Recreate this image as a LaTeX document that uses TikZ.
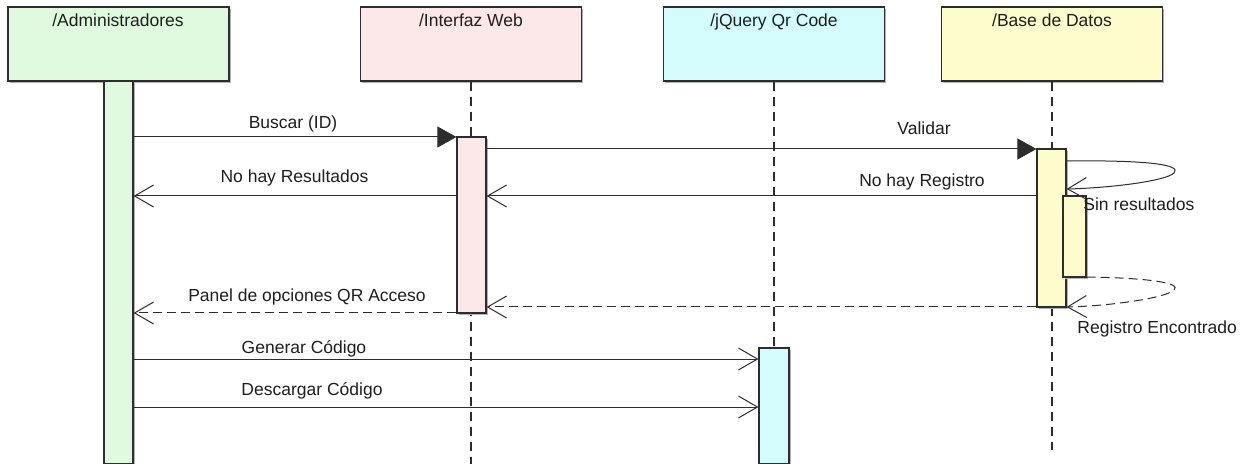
\documentclass[tikz,border=0pt]{standalone}
\usepackage{fontspec}
\setmainfont{Liberation Sans}
\usetikzlibrary{arrows.meta,shadows}
\definecolor{admfill}{RGB}{224,250,224}
\definecolor{webfill}{RGB}{252,232,232}
\definecolor{qrfill}{RGB}{212,252,252}
\definecolor{dbfill}{RGB}{252,252,204}
\definecolor{ln}{RGB}{45,45,45}
\definecolor{tx}{RGB}{30,30,30}
\begin{document}
\begin{tikzpicture}[x=0.5pt,y=-0.5pt,
  shd/.style={general shadow={fill=black!30, shadow xshift=0.8pt, shadow yshift=-0.8pt}},
  head/.style={draw=ln, line width=0.6pt, inner sep=0pt, minimum width=110.5pt, minimum height=37pt, shd},
  bar/.style={draw=ln, line width=0.6pt, inner sep=0pt, shd},
  lbl/.style={font=\fontsize{8.75}{10}\selectfont, text=tx, inner sep=0pt, anchor=base},
  life/.style={draw=ln, line width=0.6pt, dash pattern=on 4.5pt off 3pt},
  msg/.style={draw=ln, line width=0.5pt},
  ret/.style={draw=ln, line width=0.5pt, dash pattern=on 4.5pt off 2.5pt},
  sync/.style={-{Triangle[length=9.5pt,width=10.5pt]}},
  open/.style={-{Straight Barb[length=9.5pt,width=11pt]}}]
\useasboundingbox (0,0) rectangle (1256,464);
% headers
\node[head, fill=admfill] (adm) at (118.5,44) {};
\node[head, fill=webfill] (web) at (471,44) {};
\node[head, fill=qrfill] (qr) at (774,44) {};
\node[head, fill=dbfill] (db) at (1052,44) {};
\node[lbl] (admt) at (118,27) {/Administradores};
\node[lbl] (webt) at (471,27) {/Interfaz Web};
\node[lbl] (qrt) at (774,27) {/jQuery Qr Code};
\node[lbl] (dbt) at (1052,27) {/Base de Datos};
% lifeline ends
\coordinate (webend) at (471,464);
\coordinate (qrend) at (774,464);
\coordinate (dbend) at (1052,450);
\draw[life] (web.south) -- (webend);
\draw[life] (qr.south) -- (qrend);
\draw[life] (db.south) -- (dbend);
% activation bars
\node[bar, fill=admfill, minimum width=14.5pt, minimum height=191.5pt] (admbar) at (118.5,272.5) {};
\node[bar, fill=webfill, minimum width=14.5pt, minimum height=88pt] (webbar) at (471.5,225) {};
\node[bar, fill=qrfill, minimum width=15pt, minimum height=58pt] (qrbar) at (774,406) {};
\node[bar, fill=dbfill, minimum width=14.5pt, minimum height=79pt] (dbbar) at (1051.5,228) {};
\node[bar, fill=dbfill, minimum width=11.5pt, minimum height=40.5pt] (dbsub) at (1074.5,236.5) {};
% message levels
\coordinate (y137) at (0,137);
\coordinate (y149) at (0,149);
\coordinate (y161) at (0,161);
\coordinate (y189) at (0,189);
\coordinate (y196) at (0,196);
\coordinate (y277) at (0,277);
\coordinate (y307) at (0,307);
\coordinate (y313) at (0,313);
\coordinate (y359) at (0,359);
\coordinate (y407) at (0,407);
% messages
\draw[msg, sync] (admbar.east |- y137) -- (webbar.west |- y137);
\node[lbl] (m1) at (293,129) {Buscar (ID)};
\draw[msg, sync] (webbar.east |- y149) -- (dbbar.west |- y149);
\node[lbl] (m2) at (924,135) {Validar};
\draw[msg, open] (dbbar.east |- y161) .. controls (1150,160) and (1182,165) .. (1174,173)
  .. controls (1166,181) and (1110,188) .. (dbbar.east |- y189);
\node[lbl, anchor=base west] (m3) at (1083,211) {Sin resultados};
\draw[msg, open] (dbbar.west |- y196) -- (webbar.east |- y196);
\node[lbl] (m4) at (922,187) {No hay Registro};
\draw[msg, open] (webbar.west |- y196) -- (admbar.east |- y196);
\node[lbl] (m5) at (294.5,183) {No hay Resultados};
\draw[ret, open] (dbsub.east |- y277) .. controls (1150,278) and (1182,283) .. (1174,290)
  .. controls (1166,298) and (1110,306) .. (dbbar.east |- y307);
\node[lbl, anchor=base west] (m6) at (1077,333) {Registro Encontrado};
\draw[ret, open] (dbbar.west |- y307) -- (webbar.east |- y307);
\draw[ret, open] (webbar.west |- y313) -- (admbar.east |- y313);
\node[lbl] (m7) at (307,301) {Panel de opciones QR Acceso};
\draw[msg, open] (admbar.east |- y359) -- (qrbar.west |- y359);
\node[lbl] (m8) at (304,353) {Generar Código};
\draw[msg, open] (admbar.east |- y407) -- (qrbar.west |- y407);
\node[lbl] (m9) at (312,395) {Descargar Código};
\end{tikzpicture}
\end{document}
